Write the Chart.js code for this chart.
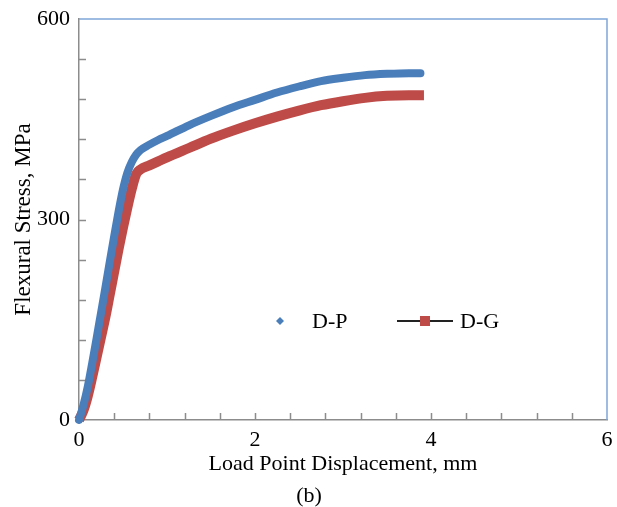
<!DOCTYPE html>
<html>
<head>
<meta charset="utf-8">
<script src="https://cdn.jsdelivr.net/npm/chart.js@4.4.1/dist/chart.umd.min.js"></script>
<style>
    html, body { margin: 0; padding: 0; background: #fff; }
</style>
</head>
<body>
<canvas id="flexChart" width="617" height="507"></canvas>
<script>
// load point displacement (mm) vs flexural stress (MPa)
var dpDisp = [0, 0.05, 0.1, 0.15, 0.2, 0.25, 0.3, 0.35, 0.4, 0.45, 0.5, 0.55, 0.6, 0.65, 0.7, 0.8, 0.9, 1.0,
    1.25, 1.5, 1.75, 2.0, 2.25, 2.5, 2.75, 3.0, 3.25, 3.5, 3.75, 3.88];
var dpStress = [0, 22, 50, 85, 122, 160, 198, 237, 275, 312, 345, 370, 386, 397, 404, 412, 419, 425,
    441, 455, 468, 479, 490, 499, 507, 512, 516, 518, 519, 519];

var dgDisp = [0, 0.05, 0.1, 0.15, 0.2, 0.25, 0.3, 0.35, 0.4, 0.45, 0.5, 0.55, 0.6, 0.65, 0.7, 0.8, 0.9, 1.0,
    1.25, 1.5, 1.75, 2.0, 2.25, 2.5, 2.75, 3.0, 3.25, 3.5, 3.75, 3.92];
var dgStress = [0, 14, 36, 64, 94, 124, 154, 188, 222, 256, 288, 318, 346, 368, 375, 381, 387, 393,
    407, 421, 433, 444, 454, 463, 471, 477, 482, 485, 486, 486];

var seriesNames = ['D-P', 'D-G'];
var xTickLabels = [0, 2, 4, 6];
var yTickLabels = [0, 300, 600];

var serif = '"Liberation Serif", "Times New Roman", serif';

function toPoints(xs, ys) {
    return xs.map(function (x, i) { return { x: x, y: ys[i] }; });
}

function isLabelled(list, v) {
    return list.some(function (l) { return Math.abs(l - v) < 1e-6; });
}

// light blue top/right edges and inward tick marks
var frameTicks = {
    id: 'frameTicks',
    beforeDatasetsDraw: function (chart) {
        var ctx = chart.ctx, a = chart.chartArea;
        var xs = chart.scales.x, ys = chart.scales.y;
        ctx.save();
        ctx.strokeStyle = '#7fa6d9';
        ctx.lineWidth = 1.5;
        ctx.beginPath();
        ctx.moveTo(a.left, a.top);
        ctx.lineTo(a.right, a.top);
        ctx.lineTo(a.right, a.bottom);
        ctx.stroke();

        ctx.strokeStyle = '#8c8c8c';
        ctx.lineWidth = 1.5;
        ctx.beginPath();
        xs.ticks.forEach(function (t) {
            if (t.value <= xs.min || t.value >= xs.max) return;
            var px = Math.round(xs.getPixelForValue(t.value)) + 0.5;
            ctx.moveTo(px, a.bottom);
            ctx.lineTo(px, a.bottom - 7);
        });
        ys.ticks.forEach(function (t) {
            if (t.value <= ys.min || t.value >= ys.max) return;
            var py = Math.round(ys.getPixelForValue(t.value)) + 0.5;
            ctx.moveTo(a.left, py);
            ctx.lineTo(a.left + 7, py);
        });
        ctx.stroke();
        ctx.restore();
    }
};

// legend sitting inside the plot, plus the (b) caption
var innerLegend = {
    id: 'innerLegend',
    afterDraw: function (chart) {
        var ctx = chart.ctx, a = chart.chartArea;
        var ds = chart.data.datasets;
        var rowY = 321;
        ctx.save();
        ctx.font = '22px ' + serif;
        ctx.textBaseline = 'middle';

        // D-P: single diamond marker
        var mx = a.left + 201;
        ctx.fillStyle = ds[0].borderColor;
        ctx.beginPath();
        ctx.moveTo(mx, rowY - 4);
        ctx.lineTo(mx + 4, rowY);
        ctx.lineTo(mx, rowY + 4);
        ctx.lineTo(mx - 4, rowY);
        ctx.closePath();
        ctx.fill();
        ctx.fillStyle = '#000';
        ctx.textAlign = 'left';
        ctx.fillText(ds[0].label, a.left + 233, rowY + 1);

        // D-G: line with square marker
        var lx = a.left + 318;
        ctx.strokeStyle = '#222';
        ctx.lineWidth = 2;
        ctx.beginPath();
        ctx.moveTo(lx, rowY);
        ctx.lineTo(lx + 56, rowY);
        ctx.stroke();
        ctx.fillStyle = ds[1].borderColor;
        ctx.fillRect(lx + 23, rowY - 5, 10, 10);
        ctx.fillStyle = '#000';
        ctx.fillText(ds[1].label, a.left + 381, rowY + 1);

        ctx.textAlign = 'center';
        ctx.fillText('(b)', 309, 496);
        ctx.restore();
    }
};

var chartFlex = new Chart(document.getElementById('flexChart'), {
    type: 'scatter',
    data: {
        datasets: [{
            label: seriesNames[0],
            data: toPoints(dpDisp, dpStress),
            showLine: true,
            borderColor: '#4a7ebb',
            borderWidth: 8,
            borderCapStyle: 'round',
            borderJoinStyle: 'round',
            cubicInterpolationMode: 'monotone',
            pointRadius: 0,
            clip: false
        }, {
            label: seriesNames[1],
            data: toPoints(dgDisp, dgStress),
            showLine: true,
            borderColor: '#be4b48',
            borderWidth: 10,
            borderCapStyle: 'butt',
            borderJoinStyle: 'miter',
            cubicInterpolationMode: 'monotone',
            pointRadius: 0,
            clip: false
        }]
    },
    options: {
        responsive: false,
        animation: false,
        devicePixelRatio: 1,
        layout: { padding: { left: 0, right: 10, top: 19, bottom: 28 } },
        plugins: {
            legend: { display: false },
            tooltip: { enabled: false }
        },
        scales: {
            x: {
                type: 'linear',
                min: 0,
                max: 6,
                afterFit: function (scale) {
                    scale.height = 59;
                    scale.paddingLeft = 0;
                    scale.paddingRight = 0;
                },
                ticks: {
                    stepSize: 0.4,
                    autoSkip: false,
                    maxRotation: 0,
                    padding: 7,
                    color: '#000',
                    font: { family: serif, size: 22 },
                    callback: function (v) { return isLabelled(xTickLabels, v) ? String(Math.round(v)) : ''; }
                },
                grid: { display: false, drawTicks: false },
                border: { display: true, color: '#8c8c8c', width: 1.5 },
                title: {
                    display: true,
                    text: 'Load Point Displacement, mm',
                    color: '#000',
                    font: { family: serif, size: 22 },
                    padding: { top: 0, bottom: 2 }
                }
            },
            y: {
                type: 'linear',
                min: 0,
                max: 600,
                afterFit: function (scale) {
                    scale.width = 79;
                    scale.paddingTop = 0;
                    scale.paddingBottom = 0;
                },
                ticks: {
                    stepSize: 60,
                    autoSkip: false,
                    padding: 9,
                    color: '#000',
                    font: { family: serif, size: 22 },
                    callback: function (v) { return isLabelled(yTickLabels, v) ? String(v) : ''; }
                },
                grid: { display: false, drawTicks: false },
                border: { display: true, color: '#8c8c8c', width: 1.5 },
                title: {
                    display: true,
                    text: 'Flexural Stress, MPa',
                    color: '#000',
                    font: { family: serif, size: 23 },
                    padding: { top: 10, bottom: 0 }
                }
            }
        }
    },
    plugins: [frameTicks, innerLegend]
});
</script>
</body>
</html>
